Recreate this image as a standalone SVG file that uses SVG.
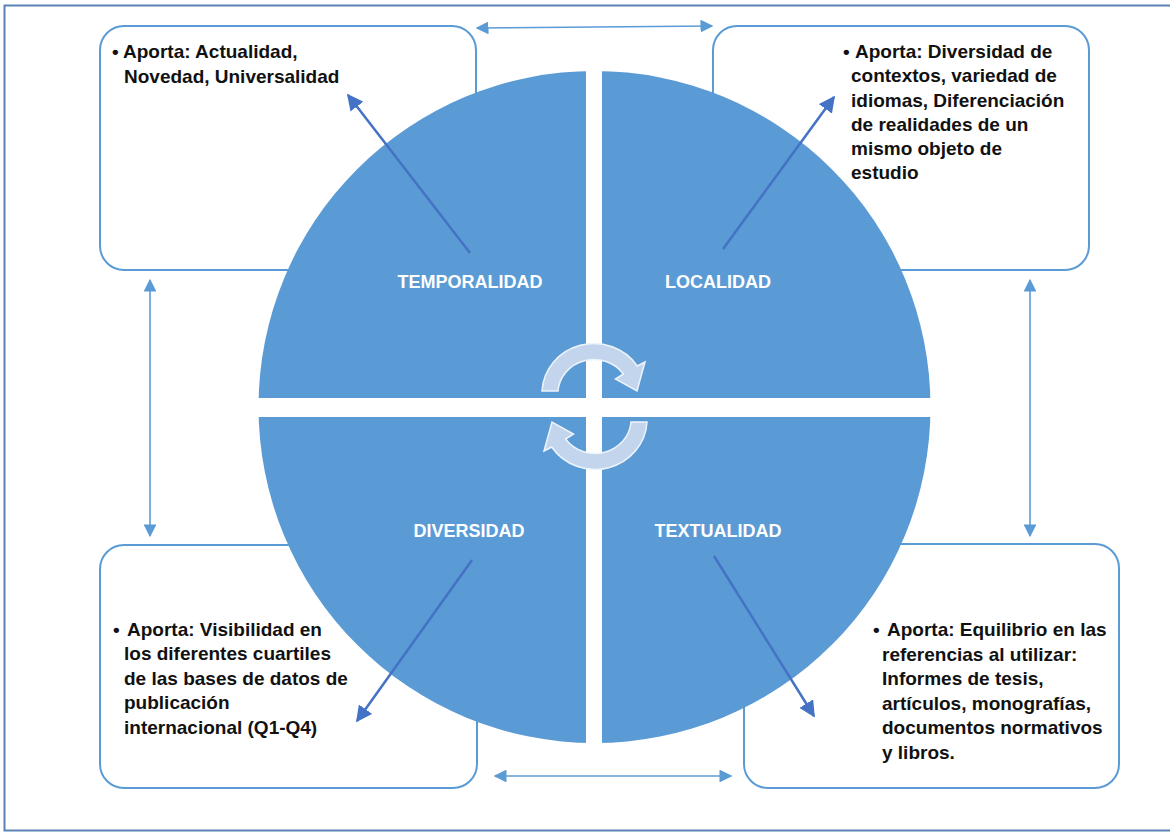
<svg xmlns="http://www.w3.org/2000/svg" width="1170" height="837" viewBox="0 0 1170 837">
  <style>
    .box { fill: #ffffff; stroke: #5b9bd5; stroke-width: 2; }
    .txt { font-family: "Liberation Sans", Arial, sans-serif; font-weight: bold; font-size: 19px; fill: #111111; }
    .lbl { font-family: "Liberation Sans", Arial, sans-serif; font-weight: bold; font-size: 18px; fill: #ffffff; text-anchor: middle; }
    .dbl { stroke: #5b9bd5; stroke-width: 1.6; fill: none; marker-start: url(#ahL); marker-end: url(#ahL); }
    .diag { stroke: #4472c4; stroke-width: 2.5; fill: none; marker-end: url(#ahD); }
    .cyc { fill: #c3d5ed; stroke: #eef4fb; stroke-width: 1.5; }
  </style>
  <defs>
    <marker id="ahL" viewBox="0 0 10 10" refX="9" refY="5" markerWidth="8" markerHeight="8" markerUnits="strokeWidth" orient="auto-start-reverse">
      <path d="M0,0 L10,5 L0,10 z" fill="#5b9bd5"/>
    </marker>
    <marker id="ahD" viewBox="0 0 10 10" refX="9" refY="5" markerWidth="6.5" markerHeight="6.5" markerUnits="strokeWidth" orient="auto">
      <path d="M0,0 L10,5 L0,10 z" fill="#4472c4"/>
    </marker>
  </defs>

  <rect x="0" y="0" width="1170" height="837" fill="#ffffff"/>
  <rect id="frame" x="4.5" y="5.5" width="1175" height="825" fill="none" stroke="#5a82b6" stroke-width="2"/>

  <g id="box-temporalidad">
    <rect class="box" x="100" y="26" width="376" height="244" rx="24"/>
    <text class="txt"><tspan x="112" y="58">•</tspan><tspan x="123" y="58">Aporta: Actualidad,</tspan><tspan x="124" y="83">Novedad, Universalidad</tspan></text>
  </g>
  <g id="box-localidad">
    <rect class="box" x="713" y="26" width="376" height="244" rx="24"/>
    <text class="txt"><tspan x="843" y="58">•</tspan><tspan x="855" y="58">Aporta: Diversidad de</tspan><tspan x="851" y="82">contextos, variedad de</tspan><tspan x="851" y="107">idiomas, Diferenciación</tspan><tspan x="851" y="131">de realidades de un</tspan><tspan x="851" y="155">mismo objeto de</tspan><tspan x="851" y="179">estudio</tspan></text>
  </g>
  <g id="box-diversidad">
    <rect class="box" x="100" y="545" width="377" height="243" rx="24"/>
    <text class="txt"><tspan x="113" y="636">•</tspan><tspan x="127" y="636">Aporta: Visibilidad en</tspan><tspan x="124" y="660">los diferentes cuartiles</tspan><tspan x="124" y="685">de las bases de datos de</tspan><tspan x="124" y="709">publicación</tspan><tspan x="124" y="734">internacional (Q1-Q4)</tspan></text>
  </g>
  <g id="box-textualidad">
    <rect class="box" x="744" y="544" width="375" height="244" rx="24"/>
    <text class="txt"><tspan x="873" y="636">•</tspan><tspan x="887" y="636">Aporta: Equilibrio en las</tspan><tspan x="882" y="661">referencias al utilizar:</tspan><tspan x="882" y="685">Informes de tesis,</tspan><tspan x="882" y="710">artículos, monografías,</tspan><tspan x="882" y="734">documentos normativos</tspan><tspan x="882" y="759">y libros.</tspan></text>
  </g>

  <g id="circle">
    <circle cx="594.5" cy="407" r="336" fill="#5b9bd5"/>
    <rect x="586" y="60" width="16" height="700" fill="#ffffff"/>
    <rect x="250" y="398" width="690" height="19" fill="#ffffff"/>
  </g>

  <g id="quadrant-temporalidad"><text class="lbl" x="470" y="288">TEMPORALIDAD</text></g>
  <g id="quadrant-localidad"><text class="lbl" x="718" y="288">LOCALIDAD</text></g>
  <g id="quadrant-diversidad"><text class="lbl" x="469" y="537">DIVERSIDAD</text></g>
  <g id="quadrant-textualidad"><text class="lbl" x="718" y="537">TEXTUALIDAD</text></g>

  <g id="cycle">
    <path class="cyc" d="M542,391 A52,50 0 0 1 637.3,366 L645,362 L637,391 L615.5,379 L623.4,374 A36,34 0 0 0 558,391 Z"/>
    <path class="cyc" d="M647,422 A52,50 0 0 1 551.7,447 L544,451 L552,422 L573.5,434 L565.6,439 A36,34 0 0 0 631,422 Z"/>
  </g>

  <g id="connectors">
    <line class="dbl" x1="477" y1="28" x2="712" y2="26"/>
    <line class="dbl" x1="495" y1="776" x2="731" y2="776"/>
    <line class="dbl" x1="150" y1="280" x2="150" y2="536"/>
    <line class="dbl" x1="1030" y1="280" x2="1030" y2="536"/>
    <line class="diag" x1="470" y1="253" x2="348" y2="95"/>
    <line class="diag" x1="723" y1="249" x2="834" y2="97"/>
    <line class="diag" x1="472" y1="560" x2="357" y2="721"/>
    <line class="diag" x1="714" y1="556" x2="814" y2="716"/>
  </g>
</svg>
